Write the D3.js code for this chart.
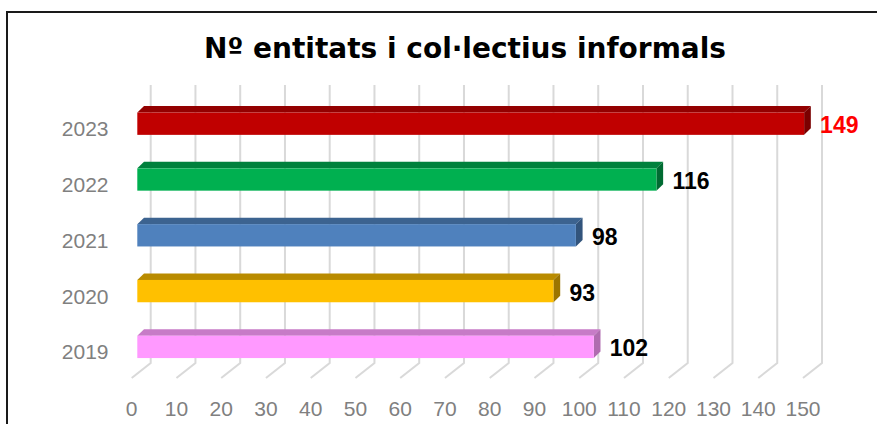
<!DOCTYPE html>
<html>
<head>
<meta charset="utf-8">
<script src="https://cdn.jsdelivr.net/npm/d3@7"></script>
<style>
  body { margin: 0; background: #fff; }
  svg { display: block; }
</style>
</head>
<body>
<script>
var width = 877,
    height = 424;

// data
var years = ["2023", "2022", "2021", "2020", "2019"];
var values = [149, 116, 98, 93, 102];
var barColors = ["#C00000", "#00B050", "#4F81BD", "#FFC000", "#FF99FF"];
var topColors = ["#930000", "#00813D", "#3C6390", "#B98B00", "#C77BC7"];
var sideColors = ["#7A0000", "#006B32", "#32547C", "#9C7500", "#B06CB0"];
var labelColors = ["#FF0000", "#000", "#000", "#000", "#000"];
var ticks = d3.range(0, 151, 10);

var svg = d3.select("body").append("svg")
            .attr("width", width)
            .attr("height", height)

// chart frame
svg.append("rect")
   .attr("x", 7).attr("y", 12)
   .attr("width", 900).attr("height", 500)
   .attr("fill", "none")
   .attr("stroke", "#1a1a1a")
   .attr("stroke-width", 2)

svg.append("text")
   .attr("x", 465).attr("y", 58)
   .attr("text-anchor", "middle")
   .attr("font-family", "DejaVu Sans")
   .attr("font-weight", "bold")
   .attr("font-size", 28)
   .attr("fill", "#000")
   .text("Nº entitats i col·lectius informals")

var x = d3.scaleLinear()
          .domain([0, 150])
          .range([0, 671.3]);

var y = d3.scaleBand()
          .domain(years)
          .range([95.8, 374.8])
          .paddingInner(0.6)
          .paddingOuter(0.3);

var backX = 150.7,   // back wall origin
    wallTop = 85,
    wallBottom = 363,
    floorDx = -19, floorDy = 15,
    barX = 137.3,    // bar front face origin
    depthDx = 6.7, depthDy = -6.5;

// gridlines: back wall + floor diagonals
var grid = svg.append("g")
              .attr("fill", "none")
              .attr("stroke", "#D9D9D9")
              .attr("stroke-width", 2)

grid.selectAll("path")
    .data(ticks)
    .enter()
    .append("path")
    .attr("d", function(t){
      var gx = backX + x(t);
      return "M" + gx + "," + wallTop + "V" + wallBottom +
             "L" + (gx + floorDx) + "," + (wallBottom + floorDy);
    })

// tick labels
svg.append("g")
   .selectAll("text")
   .data(ticks)
   .enter()
   .append("text")
   .attr("x", function(t){ return backX + floorDx + x(t); })
   .attr("y", 408)
   .attr("text-anchor", "middle")
   .attr("dominant-baseline", "central")
   .attr("font-family", "Liberation Sans")
   .attr("font-size", 21)
   .attr("fill", "#808080")
   .text(function(t){ return t; })

// year labels
svg.append("g")
   .selectAll("text")
   .data(years)
   .enter()
   .append("text")
   .attr("x", 108.5)
   .attr("y", function(d){ return y(d) + y.bandwidth() / 2 + 5; })
   .attr("text-anchor", "end")
   .attr("dominant-baseline", "central")
   .attr("font-family", "Liberation Sans")
   .attr("font-size", 21)
   .attr("fill", "#808080")
   .text(function(d){ return d; })

// bars
var bars = svg.selectAll("g.bar")
              .data(years)
              .enter()
              .append("g")
              .attr("class", "bar")

bars.append("path")   // top face
    .attr("fill", function(d, i){ return topColors[i]; })
    .attr("d", function(d, i){
      var y0 = y(d), x1 = barX + x(values[i]);
      return "M" + barX + "," + y0 +
             "L" + (barX + depthDx) + "," + (y0 + depthDy) +
             "L" + (x1 + depthDx) + "," + (y0 + depthDy) +
             "L" + x1 + "," + y0 + "Z";
    })

bars.append("path")   // side face
    .attr("fill", function(d, i){ return sideColors[i]; })
    .attr("d", function(d, i){
      var y0 = y(d), y1 = y0 + y.bandwidth(), x1 = barX + x(values[i]);
      return "M" + x1 + "," + y0 +
             "L" + (x1 + depthDx) + "," + (y0 + depthDy) +
             "L" + (x1 + depthDx) + "," + (y1 + depthDy) +
             "L" + x1 + "," + y1 + "Z";
    })

bars.append("rect")   // front face
    .attr("x", barX)
    .attr("y", function(d){ return y(d); })
    .attr("width", function(d, i){ return x(values[i]); })
    .attr("height", y.bandwidth())
    .attr("fill", function(d, i){ return barColors[i]; })

// value labels
bars.append("text")
    .attr("x", function(d, i){ return barX + x(values[i]) + 16; })
    .attr("y", function(d){ return y(d) + y.bandwidth() / 2 + 1.5; })
    .attr("dominant-baseline", "central")
    .attr("font-family", "Liberation Sans")
    .attr("font-weight", "bold")
    .attr("font-size", 23)
    .attr("fill", function(d, i){ return labelColors[i]; })
    .text(function(d, i){ return values[i]; })
</script>
</body>
</html>
